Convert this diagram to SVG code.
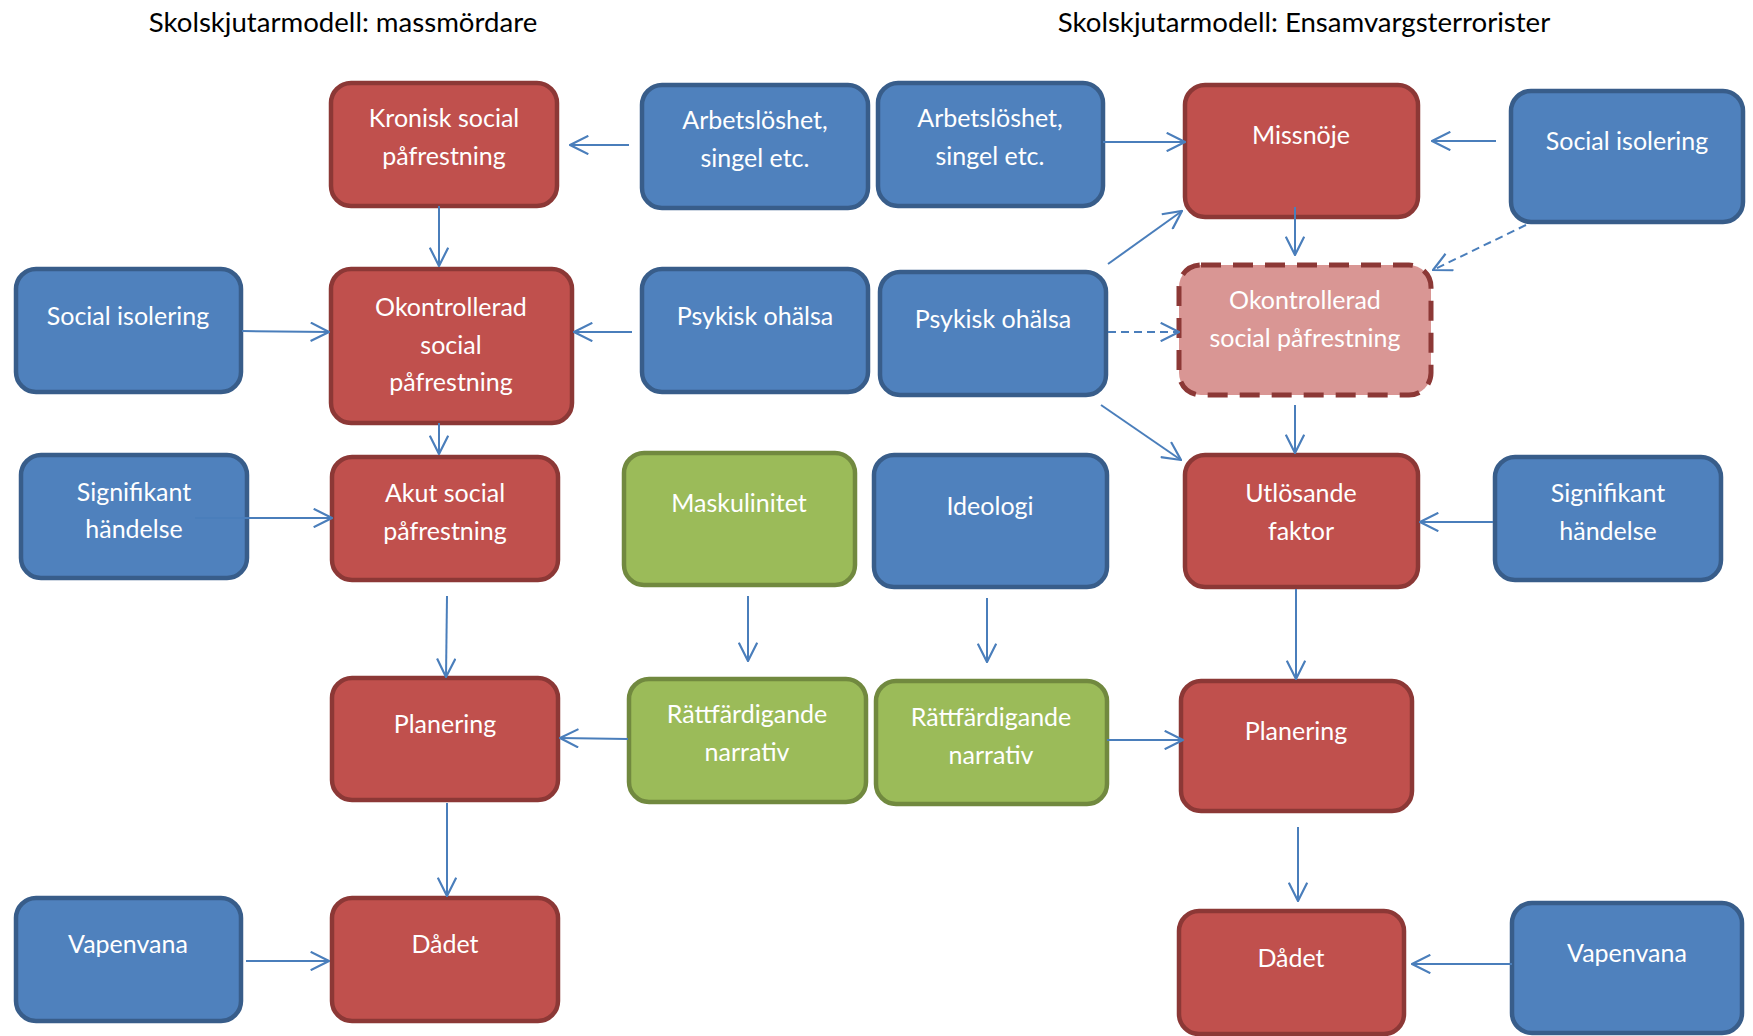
<svg xmlns="http://www.w3.org/2000/svg" width="1753" height="1036" viewBox="0 0 1753 1036">
<style>
  .t{font-family:Lato,"Liberation Sans",sans-serif;font-size:25px;fill:#fff;text-anchor:middle}
  .title{font-family:Lato,"Liberation Sans",sans-serif;font-size:27.6px;fill:#000;text-anchor:middle}
  .b rect{fill:#4F81BD;stroke:#385D8A;stroke-width:4.5}
  .r rect{fill:#C0504D;stroke:#8C3836;stroke-width:4.5}
  .g rect{fill:#9BBB59;stroke:#71893F;stroke-width:4.5}
  .d rect{fill:#D99694;stroke:#8C3836;stroke-width:5;stroke-dasharray:20 12}
  .c line{stroke:#4A7EBB;stroke-width:2;fill:none;marker-end:url(#a)}
  .c line.dash{stroke-dasharray:8 5}
</style>
<defs>
  <marker id="a" viewBox="0 0 12 12" refX="11.5" refY="6" markerWidth="20" markerHeight="20" markerUnits="userSpaceOnUse" orient="auto">
    <path d="M0.5,0.5 L11.5,6 L0.5,11.5" fill="none" stroke="#4A7EBB" stroke-width="1.3"/>
  </marker>
</defs>
<rect width="1753" height="1036" fill="#fff"/>
<text class="title" x="343" y="32">Skolskjutarmodell: massmördare</text>
<text class="title" x="1304" y="32">Skolskjutarmodell: Ensamvargsterrorister</text>

<g id="kronisk" class="r"><rect x="331" y="83" width="226" height="123" rx="20"/><text class="t" x="444" y="127">Kronisk social</text><text class="t" x="444" y="165">påfrestning</text></g>
<g id="arbets-l" class="b"><rect x="642" y="85" width="226" height="123" rx="20"/><text class="t" x="755" y="129">Arbetslöshet,</text><text class="t" x="755" y="167">singel etc.</text></g>
<g id="arbets-r" class="b"><rect x="878" y="83" width="225" height="123" rx="20"/><text class="t" x="990" y="127">Arbetslöshet,</text><text class="t" x="990" y="165">singel etc.</text></g>
<g id="missnoje" class="r"><rect x="1185" y="85" width="233" height="132" rx="20"/><text class="t" x="1301" y="144">Missnöje</text></g>
<g id="socialiso-r" class="b"><rect x="1511" y="91" width="232" height="131" rx="20"/><text class="t" x="1627" y="150">Social isolering</text></g>
<g id="socialiso-l" class="b"><rect x="16" y="269" width="225" height="123" rx="20"/><text class="t" x="128" y="325">Social isolering</text></g>
<g id="okontr-l" class="r"><rect x="331" y="269" width="241" height="154" rx="20"/><text class="t" x="451" y="316">Okontrollerad</text><text class="t" x="451" y="354">social</text><text class="t" x="451" y="391">påfrestning</text></g>
<g id="psykisk-l" class="b"><rect x="642" y="269" width="226" height="123" rx="20"/><text class="t" x="755" y="325">Psykisk ohälsa</text></g>
<g id="psykisk-r" class="b"><rect x="880" y="272" width="226" height="123" rx="20"/><text class="t" x="993" y="328">Psykisk ohälsa</text></g>
<g id="okontr-r" class="d"><rect x="1179" y="265" width="252" height="130" rx="22"/><text class="t" x="1305" y="309">Okontrollerad</text><text class="t" x="1305" y="347">social påfrestning</text></g>
<g id="signif-l" class="b"><rect x="21" y="455" width="226" height="123" rx="20"/><text class="t" x="134" y="501">Signifikant</text><text class="t" x="134" y="538">händelse</text></g>
<g id="akut" class="r"><rect x="332" y="457" width="226" height="123" rx="20"/><text class="t" x="445" y="502">Akut social</text><text class="t" x="445" y="540">påfrestning</text></g>
<g id="maskulinitet" class="g"><rect x="624" y="453" width="231" height="132" rx="20"/><text class="t" x="739" y="512">Maskulinitet</text></g>
<g id="ideologi" class="b"><rect x="874" y="455" width="233" height="132" rx="20"/><text class="t" x="990" y="515">Ideologi</text></g>
<g id="utlosande" class="r"><rect x="1185" y="455" width="233" height="132" rx="20"/><text class="t" x="1301" y="502">Utlösande</text><text class="t" x="1301" y="540">faktor</text></g>
<g id="signif-r" class="b"><rect x="1495" y="457" width="226" height="123" rx="20"/><text class="t" x="1608" y="502">Signifikant</text><text class="t" x="1608" y="540">händelse</text></g>
<g id="planering-l" class="r"><rect x="332" y="678" width="226" height="122" rx="20"/><text class="t" x="445" y="733">Planering</text></g>
<g id="ratt-l" class="g"><rect x="629" y="679" width="237" height="123" rx="20"/><text class="t" x="747" y="723">Rättfärdigande</text><text class="t" x="747" y="761">narrativ</text></g>
<g id="ratt-r" class="g"><rect x="876" y="681" width="231" height="123" rx="20"/><text class="t" x="991" y="726">Rättfärdigande</text><text class="t" x="991" y="764">narrativ</text></g>
<g id="planering-r" class="r"><rect x="1181" y="681" width="231" height="130" rx="20"/><text class="t" x="1296" y="740">Planering</text></g>
<g id="vapen-l" class="b"><rect x="16" y="898" width="225" height="123" rx="20"/><text class="t" x="128" y="953">Vapenvana</text></g>
<g id="dadet-l" class="r"><rect x="332" y="898" width="226" height="123" rx="20"/><text class="t" x="445" y="953">Dådet</text></g>
<g id="dadet-r" class="r"><rect x="1179" y="911" width="225" height="123" rx="20"/><text class="t" x="1291" y="967">Dådet</text></g>
<g id="vapen-r" class="b"><rect x="1512" y="903" width="230" height="130" rx="20"/><text class="t" x="1627" y="962">Vapenvana</text></g>

<g id="connectors" class="c">
  <line x1="629" y1="145" x2="570" y2="145"/>
  <line x1="439" y1="206" x2="439" y2="266"/>
  <line x1="242" y1="331" x2="329" y2="332"/>
  <line x1="632" y1="332" x2="574" y2="332"/>
  <line x1="439" y1="423" x2="439" y2="454"/>
  <line x1="195" y1="518" x2="332" y2="518"/>
  <line x1="447" y1="596" x2="446" y2="677"/>
  <line x1="628" y1="739" x2="560" y2="738"/>
  <line x1="447" y1="803" x2="447" y2="896"/>
  <line x1="246" y1="961" x2="329" y2="961"/>
  <line x1="748" y1="596" x2="748" y2="661"/>
  <line x1="987" y1="598" x2="987" y2="662"/>
  <line x1="1107" y1="740" x2="1183" y2="740"/>
  <line x1="1103" y1="142" x2="1185" y2="142"/>
  <line x1="1496" y1="141" x2="1432" y2="141"/>
  <line x1="1108" y1="264" x2="1182" y2="211"/>
  <line class="dash" x1="1108" y1="332" x2="1179" y2="332"/>
  <line x1="1295" y1="207" x2="1295" y2="255"/>
  <line class="dash" x1="1526" y1="225" x2="1433" y2="270"/>
  <line x1="1101" y1="405" x2="1181" y2="460"/>
  <line x1="1295" y1="405" x2="1295" y2="453"/>
  <line x1="1493" y1="522" x2="1420" y2="522"/>
  <line x1="1296" y1="589" x2="1296" y2="679"/>
  <line x1="1298" y1="827" x2="1298" y2="901"/>
  <line x1="1512" y1="964" x2="1412" y2="964"/>
</g>
</svg>
